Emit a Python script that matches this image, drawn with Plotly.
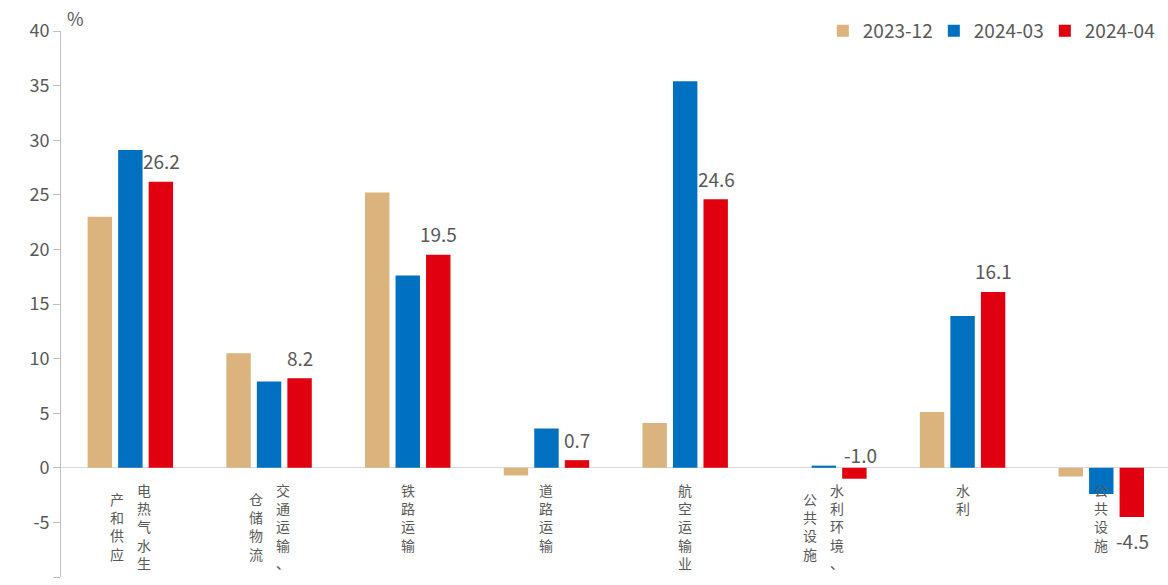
import plotly.graph_objects as go

categories = ["电热气水生产和供应", "交通运输、仓储物流", "铁路运输", "道路运输",
              "航空运输业", "水利环境、公共设施", "水利", "公共设施"]
series_names = ["2023-12", "2024-03", "2024-04"]
v_2023_12 = [23.0, 10.5, 25.2, -0.7, 4.1, 0.0, 5.1, -0.8]
v_2024_03 = [29.1, 7.9, 17.6, 3.6, 35.4, 0.2, 13.9, -2.4]
v_2024_04 = [26.2, 8.2, 19.5, 0.7, 24.6, -1.0, 16.1, -4.5]
y_ticks = [-10, -5, 0, 5, 10, 15, 20, 25, 30, 35, 40]

colors = ["#DBB37D", "#0070C0", "#E1000F"]
FONT = "Noto Sans CJK SC, Open Sans, sans-serif"
GREY = "#595959"

fig = go.Figure()
for name, vals, c in zip(series_names, [v_2023_12, v_2024_03, v_2024_04], colors):
    fig.add_trace(go.Bar(x=categories, y=vals, name=name, marker=dict(color=c, line=dict(width=0))))

annotations = []
LBL = dict(size=19, color=GREY, family=FONT)
# data labels for the 2024-04 series
for i, (cat, v) in enumerate(zip(categories, v_2024_04)):
    if i == 5:
        annotations.append(dict(x=cat, y=0, text=f"{v:.1f}", showarrow=False, xref="x", yref="y",
                                yanchor="middle", xshift=37, yshift=13, font=LBL))
    elif v < 0:
        annotations.append(dict(x=cat, y=v, text=f"{v:.1f}", showarrow=False, xref="x", yref="y",
                                yanchor="middle", xshift=31, yshift=-24, font=LBL))
    else:
        annotations.append(dict(x=cat, y=v, text=f"{v:.1f}", showarrow=False, xref="x", yref="y",
                                yanchor="middle", xshift=31, yshift=21, font=LBL))

# vertical category labels (columns right-to-left, up to 5 chars per column)
PITCH = 18
for cat in categories:
    cols = [cat[i:i + 5] for i in range(0, len(cat), 5)]
    n = len(cols)
    maxlen = max(len(c) for c in cols)
    for j, col in enumerate(cols):
        xs = (n - 1) * 13.5 - j * 27
        ys = -10 - (maxlen - len(col)) * PITCH / 2
        annotations.append(dict(x=cat, y=0, xref="x", yref="y", showarrow=False,
                                text="<br>".join(col), yanchor="top", xanchor="center",
                                xshift=xs, yshift=ys,
                                font=dict(size=14, color=GREY, family=FONT)))

annotations.append(dict(x=0, y=1, xref="paper", yref="paper", text="%", showarrow=False,
                        xanchor="left", yanchor="bottom", xshift=4, yshift=-2,
                        font=dict(size=18, color=GREY, family=FONT)))

fig.update_layout(
    width=1168, height=585,
    margin=dict(l=61, r=0, t=31, b=8),
    paper_bgcolor="white", plot_bgcolor="white",
    barmode="group", bargap=0.34, bargroupgap=0.2,
    font=dict(family=FONT, color=GREY, size=17),
    showlegend=True,
    legend=dict(orientation="h", x=0.989, xanchor="right", y=1.0, yanchor="middle",
                font=dict(size=19, color=GREY, family=FONT), entrywidth=66,
                bgcolor="rgba(0,0,0,0)"),
    annotations=annotations,
    xaxis=dict(type="category", range=[-0.5, 7.481], showticklabels=False, showline=False,
               ticks="", showgrid=False, zeroline=False, fixedrange=True),
    yaxis=dict(range=[-10, 40], tickvals=y_ticks, ticktext=[str(t) for t in y_ticks],
               showgrid=False, showline=True,
               linecolor="#BFBFBF", linewidth=1, ticks="outside", ticklen=7, tickcolor="#BFBFBF",
               zeroline=True, zerolinecolor="#D9D9D9", zerolinewidth=1,
               tickfont=dict(size=18, color=GREY, family=FONT), fixedrange=True),
)

fig.write_html("out.html", post_script="document.body.style.margin='0';",
               config={"displayModeBar": False})
